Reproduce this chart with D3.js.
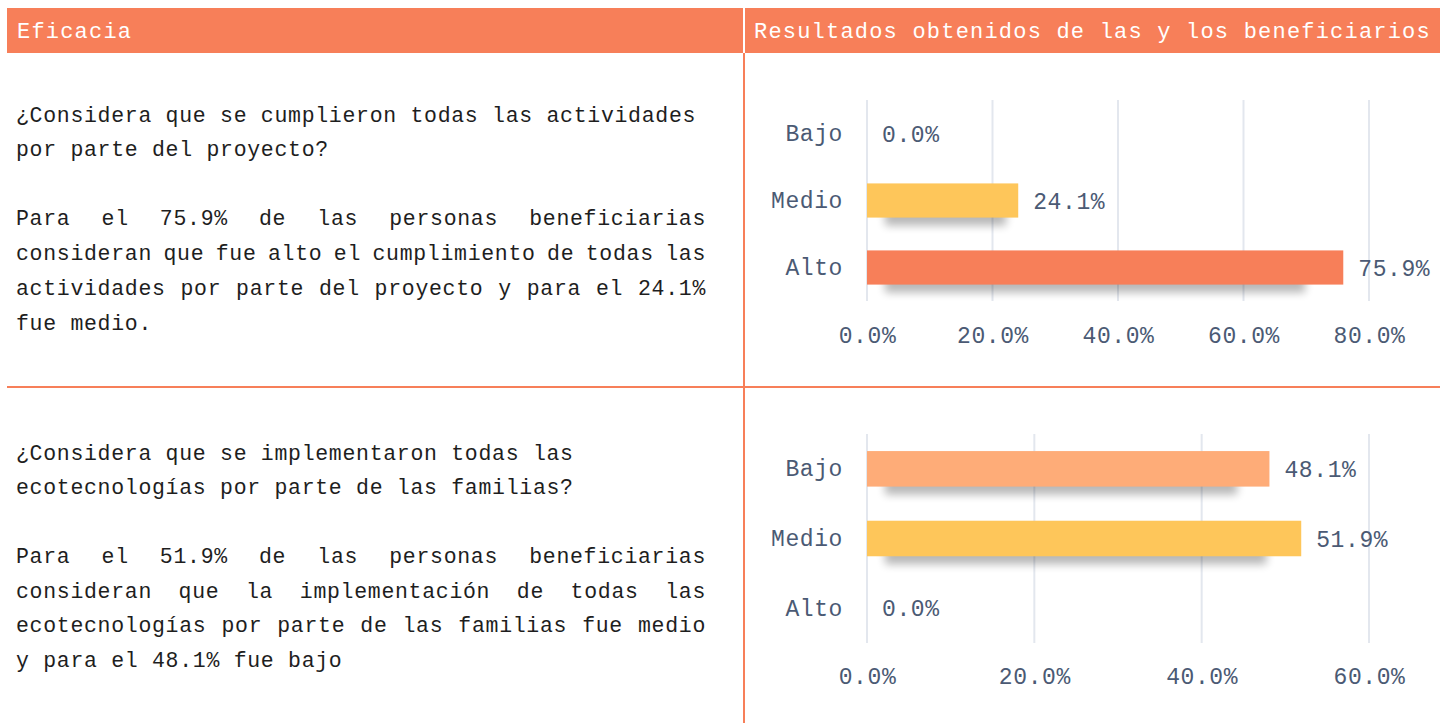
<!DOCTYPE html>
<html lang="es">
<head>
<meta charset="utf-8">
<script src="https://cdn.jsdelivr.net/npm/d3@7"></script>
<style>
  html, body { margin: 0; padding: 0; background: #fff; }
  svg { display: block; }
  text { font-family: "Liberation Mono", "DejaVu Sans Mono", monospace; }
</style>
</head>
<body>
<svg id="page" width="1440" height="723"></svg>
<script>
// ---- data ----
const headerLeft = "Eficacia";
const headerRight = "Resultados obtenidos de las y los beneficiarios";

const categories = ["Bajo", "Medio", "Alto"];

const question1 = ["¿Considera que se cumplieron todas las actividades", "por parte del proyecto?"];
const answer1 = [
  "Para el 75.9% de las personas beneficiarias",
  "consideran que fue alto el cumplimiento de todas las",
  "actividades por parte del proyecto y para el 24.1%",
  "fue medio."
];
const values1 = [0.0, 24.1, 75.9];
const ticks1 = [0, 20, 40, 60, 80];

const question2 = ["¿Considera que se implementaron todas las", "ecotecnologías por parte de las familias?"];
const answer2 = [
  "Para el 51.9% de las personas beneficiarias",
  "consideran que la implementación de todas las",
  "ecotecnologías por parte de las familias fue medio",
  "y para el 48.1% fue bajo"
];
const values2 = [48.1, 51.9, 0.0];
const ticks2 = [0, 20, 40, 60];

// ---- styles ----
const ORANGE = "#F77F59";
const barColors = { Bajo: "#FEAC78", Medio: "#FEC65A", Alto: "#F77F59" };
const SLATE = "#4B5A74";
const GRID = "#E3E7EE";
const INK = "#1E1E1E";

const svg = d3.select("#page");

// soft shadow under bars
const defs = svg.append("defs");
defs.append("filter").attr("id", "barShadow")
  .attr("x", "-20%").attr("y", "-50%").attr("width", "140%").attr("height", "200%")
  .append("feGaussianBlur").attr("stdDeviation", 4);

// ---- header band and dividers ----
svg.append("rect").attr("x", 7).attr("y", 8).attr("width", 1433).attr("height", 45).attr("fill", ORANGE);
svg.append("rect").attr("x", 743).attr("y", 8).attr("width", 2).attr("height", 45).attr("fill", "#fff");
svg.append("rect").attr("x", 743).attr("y", 53).attr("width", 2).attr("height", 670).attr("fill", ORANGE);
svg.append("rect").attr("x", 7).attr("y", 386).attr("width", 1433).attr("height", 2).attr("fill", ORANGE);

svg.append("text").attr("x", 17).attr("y", 38)
  .attr("fill", "#fff").attr("font-size", 22).attr("letter-spacing", 1.2)
  .text(headerLeft);
svg.append("text").attr("x", 754).attr("y", 38)
  .attr("fill", "#fff").attr("font-size", 22).attr("letter-spacing", 1.2)
  .text(headerRight);

// ---- left text blocks ----
const BODY_SIZE = 21.5;
const BODY_LS = 0.7;
const LEFT = 16, RIGHT = 706;

function measure(str) {
  const t = svg.append("text").attr("font-size", BODY_SIZE).attr("letter-spacing", BODY_LS).text(str);
  const w = t.node().getComputedTextLength();
  t.remove();
  return w;
}

function plainLines(lines, y0, step) {
  lines.forEach((line, i) => {
    svg.append("text").attr("x", LEFT).attr("y", y0 + i * step)
      .attr("fill", INK).attr("font-size", BODY_SIZE).attr("letter-spacing", BODY_LS)
      .text(line);
  });
}

// justified paragraph: every line but the last is spread to the full width
function justifiedLines(lines, y0, step) {
  lines.forEach((line, i) => {
    const y = y0 + i * step;
    const g = svg.append("text").attr("y", y)
      .attr("fill", INK).attr("font-size", BODY_SIZE).attr("letter-spacing", BODY_LS);
    const words = line.split(" ");
    if (i === lines.length - 1 || words.length < 2) {
      g.attr("x", LEFT).text(line);
      return;
    }
    const widths = words.map(measure);
    const total = d3.sum(widths);
    const gap = (RIGHT - LEFT - total) / (words.length - 1);
    let x = LEFT;
    words.forEach((w, k) => {
      g.append("tspan").attr("x", x).text(w);
      x += widths[k] + gap;
    });
  });
}

plainLines(question1, 122, 34);
justifiedLines(answer1, 225, 35);
plainLines(question2, 460, 34);
justifiedLines(answer2, 563, 34.7);

// ---- bar charts ----
function barChart(values, ticks, yRange, tickY) {
  const x = d3.scaleLinear().domain([0, d3.max(ticks)]).range([867, 1369]);
  const y = d3.scaleBand().domain(categories).range(yRange).paddingInner(0.49).paddingOuter(0.245);
  const g = svg.append("g");
  const fmt = v => d3.format(".1f")(v) + "%";

  // vertical grid
  g.selectAll("line.grid").data(ticks).join("line")
    .attr("x1", d => x(d)).attr("x2", d => x(d))
    .attr("y1", yRange[0]).attr("y2", yRange[1])
    .attr("stroke", GRID).attr("stroke-width", 2);

  // x axis labels
  const xAxis = d3.axisBottom(x).tickValues(ticks).tickFormat(fmt).tickSize(0).tickPadding(0);
  const ax = g.append("g").attr("transform", `translate(0,${tickY})`).call(xAxis);
  ax.select(".domain").remove();
  ax.selectAll("text").attr("fill", SLATE).attr("font-size", 23).attr("letter-spacing", 0.6)
    .attr("font-family", '"Liberation Mono", monospace').attr("dy", 0);

  // category axis
  const yAxis = d3.axisLeft(y).tickSize(0).tickPadding(0);
  const ay = g.append("g").attr("transform", "translate(843,0)").call(yAxis);
  ay.select(".domain").remove();
  ay.selectAll("text").attr("fill", SLATE).attr("font-size", 23).attr("letter-spacing", 0.6)
    .attr("font-family", '"Liberation Mono", monospace').attr("dy", "0.32em");

  const data = categories.map((c, i) => ({ c, v: values[i] }));

  // shadows
  g.selectAll("rect.shadow").data(data.filter(d => d.v > 0)).join("rect")
    .attr("x", d => x(0) + 18)
    .attr("y", d => y(d.c) + 8)
    .attr("width", d => Math.max(0, (x(d.v) - x(0)) * 0.92 - 18))
    .attr("height", y.bandwidth())
    .attr("fill", "#000").attr("opacity", 0.28)
    .attr("filter", "url(#barShadow)");

  // bars
  g.selectAll("rect.bar").data(data).join("rect")
    .attr("x", x(0)).attr("y", d => y(d.c))
    .attr("width", d => x(d.v) - x(0)).attr("height", y.bandwidth())
    .attr("fill", d => barColors[d.c]);

  // value labels
  g.selectAll("text.val").data(data).join("text")
    .attr("x", d => x(d.v) + 15)
    .attr("y", d => y(d.c) + y.bandwidth() / 2)
    .attr("dy", "0.35em")
    .attr("fill", SLATE).attr("font-size", 23).attr("letter-spacing", 0.6)
    .text(d => fmt(d.v));
}

barChart(values1, ticks1, [100, 301], 343);
barChart(values2, ticks2, [434, 643], 684);
</script>
</body>
</html>
